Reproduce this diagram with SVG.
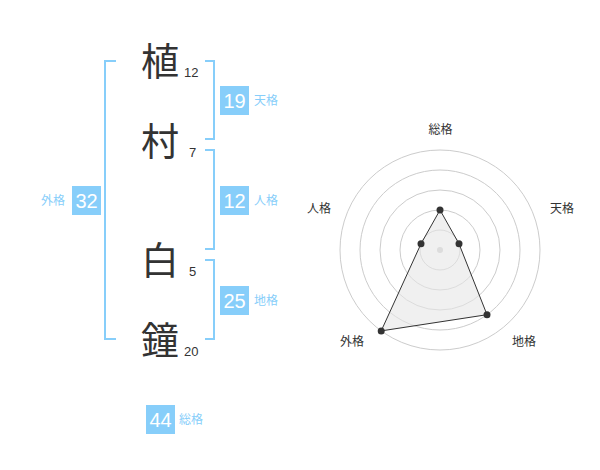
<svg xmlns="http://www.w3.org/2000/svg" width="600" height="470" viewBox="0 0 600 470">
<style>
.kanji{font-family:"Noto Sans CJK JP","Noto Sans CJK SC",sans-serif;font-size:38px;fill:#333;text-anchor:middle}
.num{font-family:"Liberation Sans",Arial,sans-serif;font-size:13px;fill:#333}
.br{fill:none;stroke:#87cefa;stroke-width:2}
.box{fill:#87cefa}
.bnum{font-family:"Liberation Sans",Arial,sans-serif;font-size:20px;fill:#fff;text-anchor:middle}
.blab{font-family:"Noto Sans CJK JP","Noto Sans CJK SC",sans-serif;font-size:12px;fill:#87cefa}
.ring{fill:none;stroke:#ccc;stroke-width:1}
.rlab{font-family:"Noto Sans CJK JP","Noto Sans CJK SC",sans-serif;font-size:12px;fill:#333;text-anchor:middle}
.pt{fill:#333}
</style>
<rect width="600" height="470" fill="#fff"/>
<g id="name">
<g id="c1"><text class="kanji" x="160" y="75">植</text><text class="num" x="184" y="77">12</text></g>
<g id="c2"><text class="kanji" x="160" y="155">村</text><text class="num" x="189" y="157">7</text></g>
<g id="c3"><text class="kanji" x="160" y="274">白</text><text class="num" x="189" y="276">5</text></g>
<g id="c4"><text class="kanji" x="160" y="354">鐘</text><text class="num" x="184" y="356">20</text></g>
</g>
<g id="brackets">
<path class="br" d="M116,61 H105 V339 H116"/>
<path class="br" d="M205,61 H214 V139 H205"/>
<path class="br" d="M205,150 H214 V249 H205"/>
<path class="br" d="M205,260 H214 V339 H205"/>
</g>
<g id="tenkaku"><rect class="box" x="220" y="86" width="29" height="29"/><text class="bnum" x="234.5" y="108">19</text><text class="blab" x="254" y="105">天格</text></g>
<g id="jinkaku"><rect class="box" x="220" y="186" width="29" height="29"/><text class="bnum" x="234.5" y="208">12</text><text class="blab" x="254" y="205">人格</text></g>
<g id="gaikaku"><rect class="box" x="72" y="186" width="29" height="29"/><text class="bnum" x="86.5" y="208">32</text><text class="blab" x="41" y="205">外格</text></g>
<g id="chikaku"><rect class="box" x="220" y="286" width="29" height="29"/><text class="bnum" x="234.5" y="308">25</text><text class="blab" x="254" y="305">地格</text></g>
<g id="soukaku"><rect class="box" x="146" y="405" width="29" height="29"/><text class="bnum" x="160.5" y="427">44</text><text class="blab" x="179" y="424">総格</text></g>
<g id="radar">
<circle class="ring" cx="440" cy="250" r="20"/>
<circle class="ring" cx="440" cy="250" r="40"/>
<circle class="ring" cx="440" cy="250" r="60"/>
<circle class="ring" cx="440" cy="250" r="80"/>
<circle class="ring" cx="440" cy="250" r="100"/>
<circle cx="440" cy="250" r="3" fill="#ccc"/>
<polygon points="440,210 459,243.8 487,314.7 381.2,330.9 421,243.8" fill="#e6e6e6" fill-opacity="0.6" stroke="#333" stroke-width="1"/>
<circle class="pt" cx="440" cy="210" r="3.5"/>
<circle class="pt" cx="459" cy="243.8" r="3.5"/>
<circle class="pt" cx="487" cy="314.7" r="3.5"/>
<circle class="pt" cx="381.2" cy="330.9" r="3.5"/>
<circle class="pt" cx="421" cy="243.8" r="3.5"/>
<text class="rlab" x="440.5" y="134">総格</text>
<text class="rlab" x="562" y="213">天格</text>
<text class="rlab" x="319" y="213">人格</text>
<text class="rlab" x="352" y="346">外格</text>
<text class="rlab" x="524" y="346">地格</text>
</g>
</svg>
